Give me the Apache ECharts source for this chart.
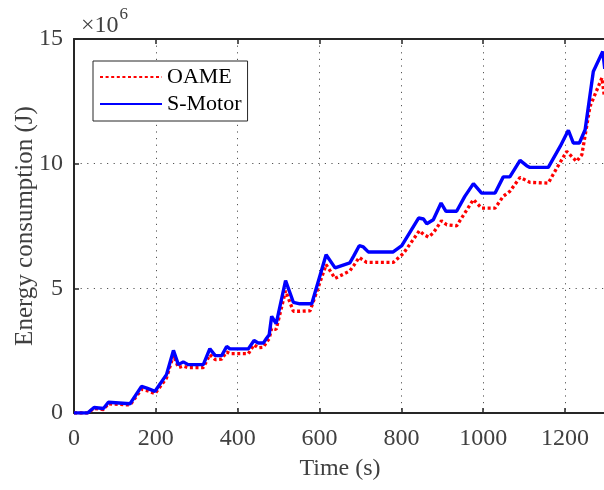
<!DOCTYPE html>
<html>
<head>
<meta charset="utf-8">
<script src="https://cdn.jsdelivr.net/npm/echarts@6/dist/echarts.min.js"></script>
<style>
  html, body { margin: 0; padding: 0; background: #fff; }
  #chart { width: 604px; height: 490px; }
</style>
</head>
<body>
<div id="chart"></div>
<script>
// Cumulative energy (in units of 10^6 J) against time (s)
const oameTime = [0, 33, 49, 72, 84, 137, 165, 178, 198, 226, 243, 255, 267, 279, 316, 332, 345, 361, 373, 381, 426, 440, 450, 463, 471, 477, 483, 494, 517, 536, 552, 577, 616, 638, 674, 683, 697, 715, 780, 805, 844, 855, 866, 878, 898, 911, 935, 976, 996, 1029, 1049, 1065, 1090, 1114, 1159, 1180, 1204, 1228, 1241, 1261, 1290, 1296];
const oameEnergy = [0, 0, 0.18, 0.14, 0.37, 0.32, 0.95, 0.90, 0.78, 1.40, 2.32, 1.82, 1.88, 1.82, 1.82, 2.34, 2.14, 2.16, 2.45, 2.38, 2.38, 2.74, 2.62, 2.64, 2.86, 2.98, 3.40, 3.35, 4.90, 4.08, 4.08, 4.10, 5.95, 5.40, 5.70, 5.90, 6.24, 6.04, 6.04, 6.40, 7.31, 7.15, 7.06, 7.22, 7.71, 7.55, 7.51, 8.56, 8.22, 8.22, 8.69, 8.89, 9.45, 9.25, 9.22, 9.83, 10.49, 10.09, 10.36, 12.30, 13.44, 12.70];

const motorTime = [0, 33, 49, 72, 84, 137, 165, 178, 198, 226, 243, 255, 267, 279, 316, 332, 345, 361, 373, 381, 426, 440, 450, 463, 471, 477, 483, 494, 517, 536, 552, 581, 616, 638, 674, 683, 697, 707, 719, 780, 801, 842, 854, 862, 878, 897, 909, 935, 955, 976, 996, 1029, 1049, 1065, 1090, 1106, 1114, 1159, 1188, 1208, 1220, 1235, 1249, 1269, 1292, 1297];
const motorEnergy = [0, 0, 0.22, 0.18, 0.43, 0.37, 1.07, 1.00, 0.87, 1.54, 2.51, 1.94, 2.05, 1.94, 1.94, 2.58, 2.30, 2.30, 2.67, 2.57, 2.57, 2.91, 2.81, 2.81, 3.01, 3.14, 3.88, 3.58, 5.31, 4.44, 4.38, 4.38, 6.35, 5.82, 6.02, 6.28, 6.71, 6.66, 6.46, 6.46, 6.71, 7.82, 7.78, 7.59, 7.75, 8.42, 8.09, 8.09, 8.69, 9.20, 8.82, 8.82, 9.47, 9.47, 10.13, 9.92, 9.85, 9.85, 10.69, 11.34, 10.83, 10.83, 11.36, 13.70, 14.50, 13.80];

const seriesNames = ['OAME', 'S-Motor'];
const xTicks = [0, 200, 400, 600, 800, 1000, 1200];
const yTicks = [0, 5, 10, 15];

const pairs = (xs, ys) => xs.map((x, i) => [x, ys[i]]);

const FONT = 'Liberation Serif';
const LABEL = '#404040';
const AXIS = '#262626';

const chart = echarts.init(document.getElementById('chart'), null, { renderer: 'canvas' });

const gridLine = { show: true, lineStyle: { color: '#555', width: 1, type: [1.2, 5.4] } };

chart.setOption({
  animation: false,
  backgroundColor: '#fff',
  grid: { left: 74, top: 39, width: 532, height: 374, containLabel: false, outerBoundsMode: 'none' },
  title: {
    left: 76, top: 1,
    text: '{a|×10}{b|6}',
    textStyle: {
      fontWeight: 'normal',
      rich: {
        a: { fontFamily: FONT, fontSize: 24, fontWeight: 'normal', color: LABEL, verticalAlign: 'bottom', lineHeight: 30 },
        b: { fontFamily: FONT, fontSize: 17, fontWeight: 'normal', color: LABEL, verticalAlign: 'top', padding: [0, 0, 15, 1] }
      }
    }
  },
  legend: {
    data: seriesNames,
    orient: 'vertical',
    left: 93, top: 61,
    backgroundColor: '#fff',
    borderColor: '#262626',
    borderWidth: 1,
    borderRadius: 0,
    padding: [5, 6, 6, 6],
    itemWidth: 62,
    itemHeight: 14,
    itemGap: 5,
    itemStyle: { opacity: 0 },
    textStyle: { fontFamily: FONT, fontSize: 22, color: '#000' }
  },
  xAxis: [{
    type: 'value',
    min: 0, max: 1300, interval: 200,
    name: 'Time (s)',
    nameLocation: 'middle',
    nameGap: 44,
    nameTextStyle: { fontFamily: FONT, fontSize: 24, color: LABEL },
    axisLine: { show: true, onZero: false, lineStyle: { color: AXIS, width: 2 } },
    axisTick: { show: true, inside: true, length: 5, lineStyle: { color: AXIS, width: 1.5 } },
    axisLabel: {
      fontFamily: FONT, fontSize: 24, color: LABEL, margin: 14,
      showMaxLabel: false,
      formatter: v => (xTicks.includes(v) ? String(v) : '')
    },
    splitLine: gridLine
  }, {
    type: 'value',
    position: 'top',
    min: 0, max: 1300, interval: 200,
    axisLine: { show: true, onZero: false, lineStyle: { color: AXIS, width: 2 } },
    axisTick: { show: true, inside: true, length: 5, lineStyle: { color: AXIS, width: 1.5 } },
    axisLabel: { show: false },
    splitLine: { show: false }
  }],
  yAxis: {
    type: 'value',
    min: 0, max: 15, interval: 5,
    name: 'Energy consumption (J)',
    nameLocation: 'middle',
    nameGap: 36,
    nameRotate: 90,
    nameMoveOverlap: false,
    nameTextStyle: { fontFamily: FONT, fontSize: 25, color: LABEL },
    axisLine: { show: true, onZero: false, lineStyle: { color: AXIS, width: 2 } },
    axisTick: { show: true, inside: true, length: 5, lineStyle: { color: AXIS, width: 1.5 } },
    axisLabel: {
      fontFamily: FONT, fontSize: 24, color: LABEL, margin: 11,
      formatter: v => (yTicks.includes(v) ? String(v) : '')
    },
    splitLine: gridLine
  },
  series: [{
    name: seriesNames[0],
    type: 'line',
    data: pairs(oameTime, oameEnergy),
    showSymbol: false,
    symbol: 'none',
    lineStyle: { color: '#ff0000', width: 3.3, type: [3, 2.6], cap: 'butt' },
    itemStyle: { color: '#ff0000' },
    z: 2
  }, {
    name: seriesNames[1],
    type: 'line',
    data: pairs(motorTime, motorEnergy),
    showSymbol: false,
    symbol: 'none',
    lineStyle: { color: '#0000ff', width: 3.4, type: 'solid' },
    itemStyle: { color: '#0000ff' },
    z: 3
  }]
});
</script>
</body>
</html>
